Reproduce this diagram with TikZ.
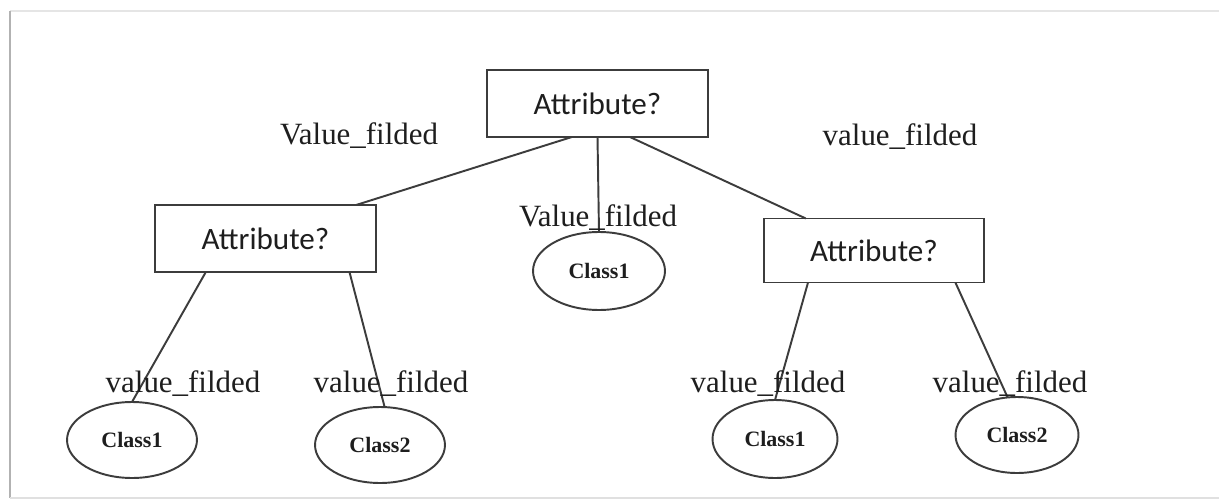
\documentclass[tikz,border=0pt]{standalone}
\usepackage{fontspec}
\setmainfont{Liberation Serif}
\newfontfamily\boxfont{Carlito}
\usetikzlibrary{shapes.geometric,calc}
\definecolor{inkline}{HTML}{3C3C3C}
\definecolor{inktext}{HTML}{1E1E1E}
\begin{document}
\begin{tikzpicture}[x=0.02cm,y=-0.02cm,
  attrbox/.style={draw=inkline,line width=1.1pt,rectangle,inner sep=0pt,outer sep=0pt,
    font=\boxfont\fontsize{17.7}{20}\selectfont,text=inktext},
  leaf/.style={draw=inkline,line width=1.1pt,ellipse,inner sep=0pt,outer sep=0pt,
    font=\fontsize{12.5}{14}\selectfont\bfseries,text=inktext},
  edgelabel/.style={inner sep=0pt,font=\fontsize{17.6}{20}\selectfont,text=inktext},
  link/.style={draw=inkline,line width=1.1pt},
  frameline/.style={draw=black!30,line width=1.2pt}]
  % canvas and frame
  \useasboundingbox (0,0) rectangle (1219,500);
  \fill[white] (0,0) rectangle (1219,500);
  \draw[draw=black!10,line width=1.5pt] (10,11) -- (1219,11);
  \draw[frameline] (10,11) -- (10,498);
  \draw[draw=black!12,line width=1pt] (10,498) -- (1219,498);

  % decision boxes
  \node[attrbox,minimum width=4.42cm,minimum height=1.34cm] (root) at (597.5,103.5) {Attribute?};
  \node[attrbox,minimum width=4.42cm,minimum height=1.34cm] (left) at (265.5,238.5) {Attribute?};
  \node[attrbox,minimum width=4.40cm,minimum height=1.28cm] (right) at (874,250.5) {Attribute?};

  % leaves
  \node[leaf,minimum width=2.64cm,minimum height=1.56cm] (mid) at (599,271) {Class1};
  \node[leaf,minimum width=2.60cm,minimum height=1.52cm] (l1) at (132,440) {Class1};
  \node[leaf,minimum width=2.60cm,minimum height=1.52cm] (l2) at (380,445) {Class2};
  \node[leaf,minimum width=2.50cm,minimum height=1.56cm] (r1) at (775,439) {Class1};
  \node[leaf,minimum width=2.46cm,minimum height=1.52cm] (r2) at (1017,435) {Class2};

  % connectors
  \draw[link] ($(root.south west)!0.384!(root.south east)$) -- ($(left.north west)!0.91!(left.north east)$);
  \draw[link] (root.south) -- (mid.north);
  \draw[link] ($(root.south west)!0.647!(root.south east)$) -- ($(right.north west)!0.19!(right.north east)$);
  \draw[link] ($(left.south west)!0.23!(left.south east)$) -- (l1.north);
  \draw[link] ($(left.south west)!0.88!(left.south east)$) -- (l2.83);
  \draw[link] ($(right.south west)!0.2!(right.south east)$) -- (r1.north);
  \draw[link] ($(right.south west)!0.87!(right.south east)$) -- (r2.104);

  % branch labels
  \node[edgelabel] (lab1) at (359,136) {Value\_filded};
  \node[edgelabel] (lab2) at (900,137) {value\_filded};
  \node[edgelabel] (lab3) at (598,218) {Value\_filded};
  \node[edgelabel] (lab4) at (183,384) {value\_filded};
  \node[edgelabel] (lab5) at (391,384) {value\_filded};
  \node[edgelabel] (lab6) at (768,384) {value\_filded};
  \node[edgelabel] (lab7) at (1010,384) {value\_filded};
\end{tikzpicture}
\end{document}
